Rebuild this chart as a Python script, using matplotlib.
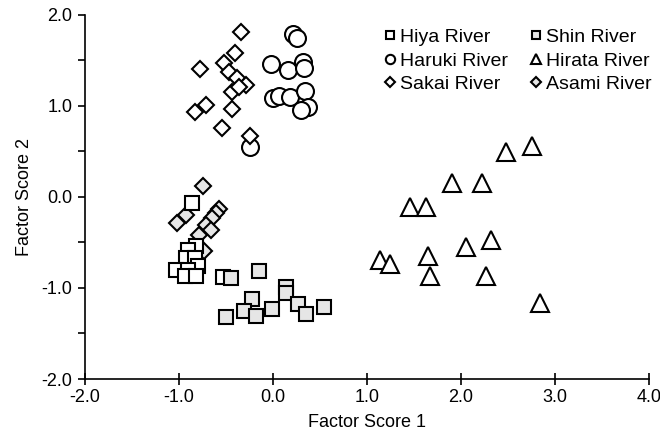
import matplotlib
matplotlib.use('Agg')
import matplotlib.pyplot as plt
from matplotlib.ticker import MultipleLocator

plt.rcParams['font.family'] = ['Liberation Sans', 'DejaVu Sans']

# factor scores
hiya_x = [-0.859, -0.816, -0.904, -0.926, -0.830, -0.798, -1.035, -0.904, -0.936, -0.819, -0.532]
hiya_y = [-0.069, -0.538, -0.582, -0.670, -0.670, -0.758, -0.802, -0.802, -0.868, -0.868, -0.879]

shin_x = [-0.450, -0.149, 0.141, 0.141, -0.220, 0.269, 0.543, -0.014, -0.309, -0.184, 0.354, -0.497]
shin_y = [-0.893, -0.810, -0.986, -1.052, -1.124, -1.176, -1.205, -1.234, -1.253, -1.308, -1.289, -1.315]

haruki_x = [0.216, 0.259, -0.018, 0.160, 0.319, 0.330, 0.000, 0.064, 0.181, 0.340, 0.376, 0.295, -0.248]
haruki_y = [1.788, 1.751, 1.458, 1.396, 1.487, 1.414, 1.091, 1.110, 1.102, 1.165, 0.992, 0.956, 0.546]

hirata_x = [2.752, 2.482, 1.907, 2.227, 1.457, 1.624, 2.316, 2.056, 1.138, 1.241, 1.649, 1.670, 2.263, 2.837]
hirata_y = [0.564, 0.491, 0.151, 0.157, -0.113, -0.113, -0.473, -0.553, -0.692, -0.736, -0.645, -0.865, -0.865, -1.168]

sakai_x = [-0.337, -0.407, -0.521, -0.777, -0.468, -0.380, -0.290, -0.433, -0.362, -0.716, -0.830, -0.433, -0.539, -0.248]
sakai_y = [1.810, 1.586, 1.469, 1.403, 1.377, 1.304, 1.231, 1.157, 1.212, 1.011, 0.930, 0.964, 0.755, 0.674]

asami_x = [-0.745, -0.929, -1.018, -0.574, -0.610, -0.649, -0.716, -0.663, -0.787, -0.734]
asami_y = [0.124, -0.198, -0.289, -0.132, -0.179, -0.231, -0.308, -0.363, -0.418, -0.593]

gray = '#e6e6e6'

fig = plt.figure(figsize=(6.6, 4.38), dpi=100)
ax = fig.add_axes([0.1288, 0.1347, 0.8545, 0.8311])

kw = dict(linestyle='none', markeredgecolor='black', markeredgewidth=1.5)
h_haruki, = ax.plot(haruki_x, haruki_y, 'o', ms=12.2, mfc='white', label='Haruki River', **kw)
h_sakai, = ax.plot(sakai_x, sakai_y, 'D', ms=8.6, mfc='white', label='Sakai River', **kw)
h_asami, = ax.plot(asami_x, asami_y, 'D', ms=8.6, mfc=gray, label='Asami River', **kw)
h_hiya, = ax.plot(hiya_x, hiya_y, 's', ms=10, mfc='white', label='Hiya River', **kw)
h_shin, = ax.plot(shin_x, shin_y, 's', ms=10, mfc=gray, label='Shin River', **kw)
h_hirata, = ax.plot(hirata_x, hirata_y, '^', ms=13, mfc='white', label='Hirata River', **kw)

ax.set_xlim(-2, 4)
ax.set_ylim(-2, 2)
ax.xaxis.set_major_locator(MultipleLocator(1))
ax.yaxis.set_major_locator(MultipleLocator(1))
ax.yaxis.set_minor_locator(MultipleLocator(0.5))
ax.xaxis.set_major_formatter(lambda v, p: f'{v:.1f}')
ax.yaxis.set_major_formatter(lambda v, p: f'{v:.1f}')
ax.tick_params(axis='x', direction='inout', length=8, width=1.2, labelsize=13, pad=3)
ax.tick_params(axis='y', which='both', direction='out', length=5, width=1.2, labelsize=13, pad=4)
ax.tick_params(axis='x', which='minor', length=0)

for s in ['top', 'right']:
    ax.spines[s].set_visible(False)
for s in ['left', 'bottom']:
    ax.spines[s].set_linewidth(1.2)

ax.set_xlabel('Factor Score 1', fontsize=13, labelpad=6)
ax.set_ylabel('Factor Score 2', fontsize=13, labelpad=6)

ax.legend(handles=[h_hiya, h_haruki, h_sakai, h_shin, h_hirata, h_asami],
          ncol=2, loc='upper right', bbox_to_anchor=(1.025, 0.995), frameon=False,
          fontsize=14, markerscale=0.55, handlelength=0.5, handletextpad=0.25,
          columnspacing=1.2, labelspacing=0.3, borderaxespad=0.2)

fig.savefig('out.png', dpi=100)
